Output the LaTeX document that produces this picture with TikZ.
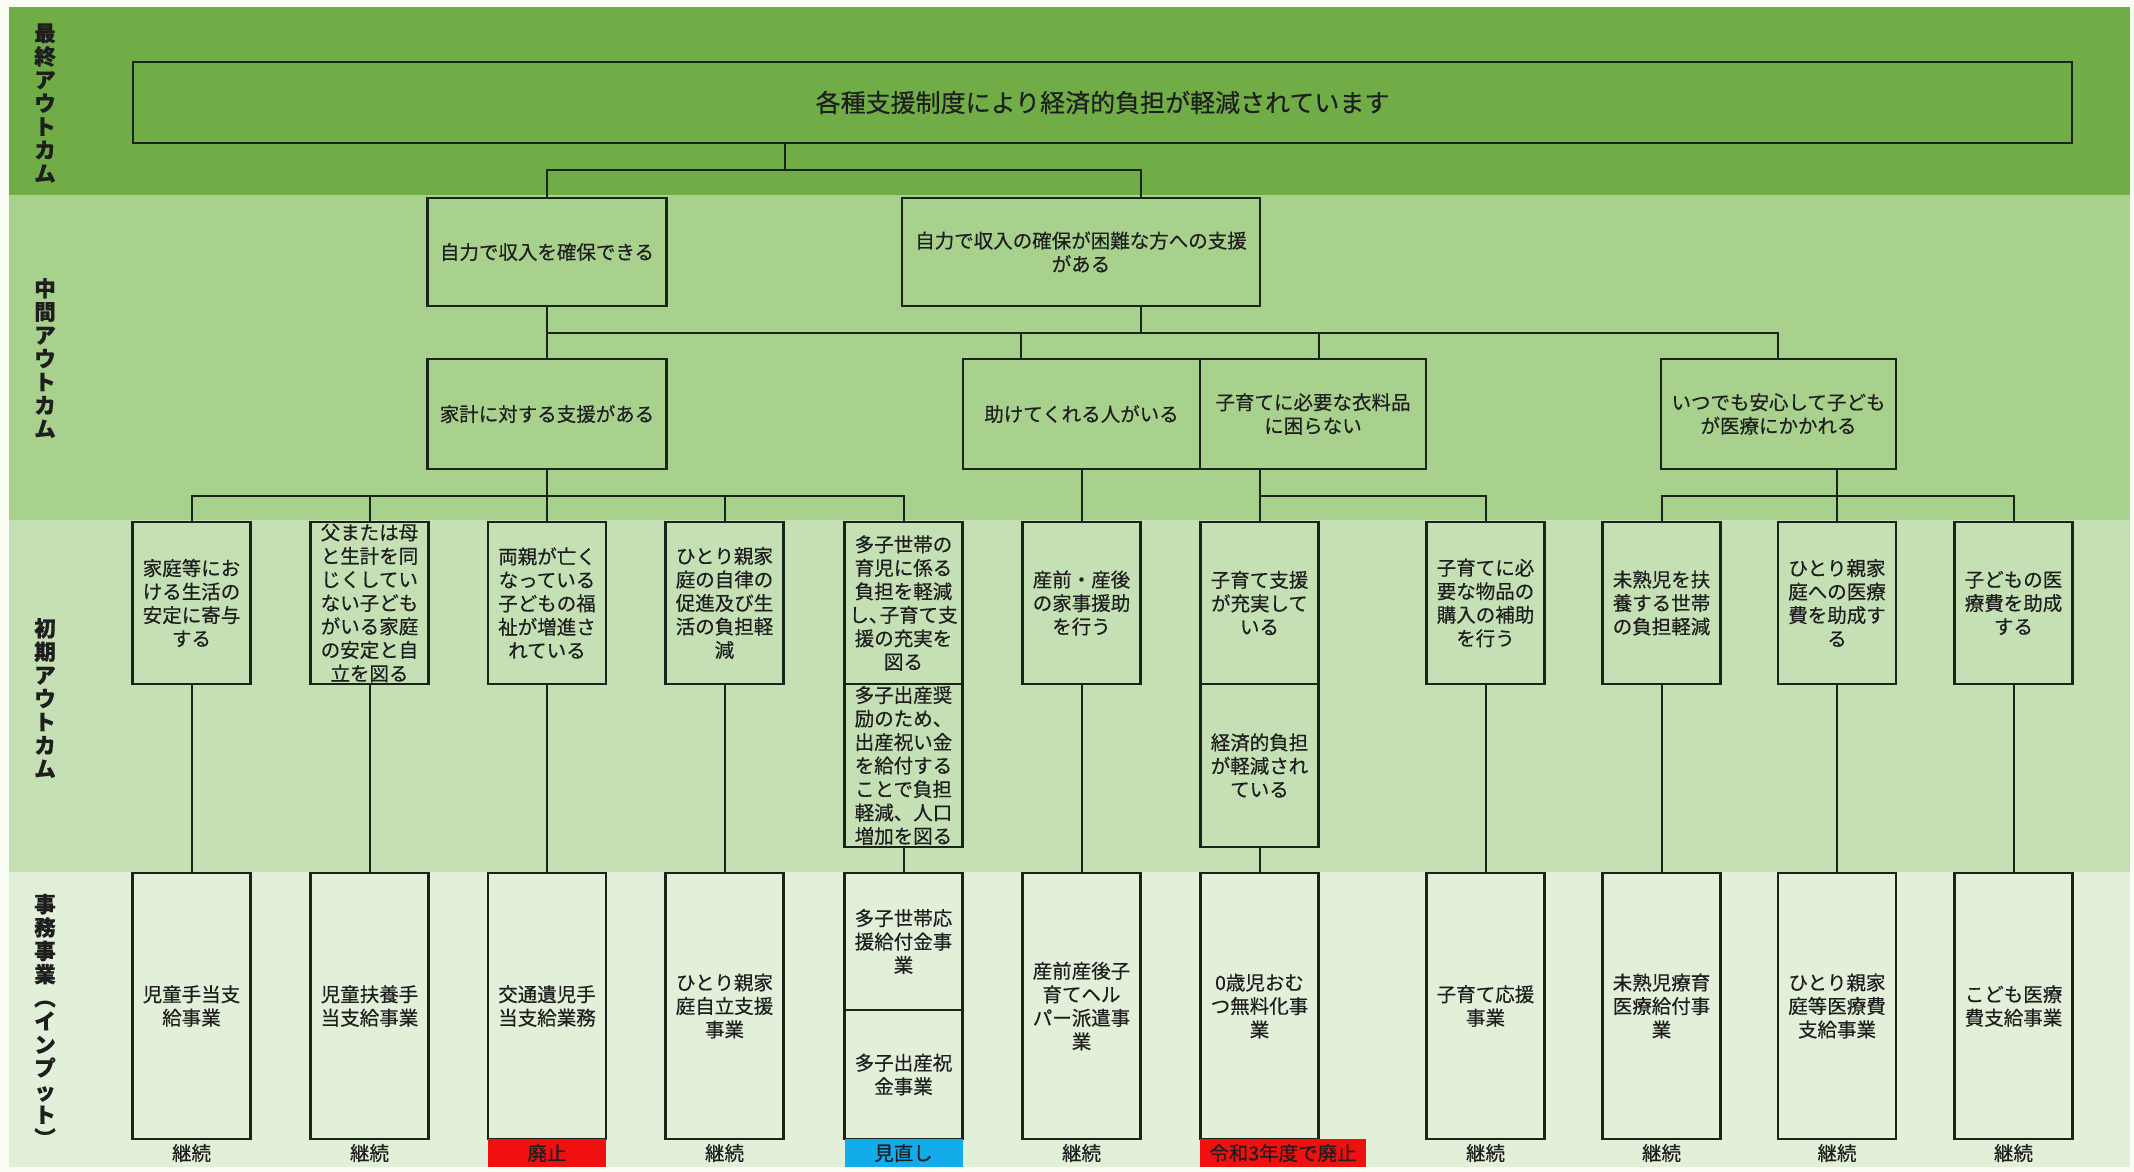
\documentclass[tikz,border=0pt]{standalone}
\usepackage{fontspec}
\setmainfont{Noto Sans CJK JP}[FakeBold=0.4]
\usetikzlibrary{calc}
\definecolor{bgw}{HTML}{FAFDF4}
\definecolor{gA}{HTML}{70AD47}
\definecolor{gB}{HTML}{A9D18E}
\definecolor{gC}{HTML}{C5E0B4}
\definecolor{gD}{HTML}{E2F0D9}
\definecolor{ln}{HTML}{1A2418}
\definecolor{txt}{HTML}{1E1E1E}
\definecolor{redst}{HTML}{F01010}
\definecolor{bluest}{HTML}{12ACEB}
\tikzset{
  box/.style={draw=ln, line width=2.2pt, inner sep=0pt, align=center, text=txt,
    font=\fontsize{19.5}{23.5}\selectfont},
  col/.style={box, minimum width=118pt},
  conn/.style={draw=ln, line width=2pt},
  vlab/.style={align=center, inner sep=0pt, text=txt, font=\fontsize{21.5}{23.4}\selectfont\bfseries},
  status/.style={inner sep=0pt, text=txt, minimum height=28pt, font=\fontsize{19.5}{23.5}\selectfont}
}
\begin{document}
\begin{tikzpicture}[x=1pt,y=-1pt]
\useasboundingbox (0,0) rectangle (2134,1172);
\fill[bgw] (0,0) rectangle (2134,1172);
\fill[gA] (9,7) rectangle (2130,195);
\fill[gB] (9,195) rectangle (2130,520);
\fill[gC] (9,520) rectangle (2130,872);
\fill[gD] (9,872) rectangle (2130,1167);

% band labels
\node[vlab] (L1) at (45,103) {最\\終\\ア\\ウ\\ト\\カ\\ム};
\node[vlab] (L2) at (45,358) {中\\間\\ア\\ウ\\ト\\カ\\ム};
\node[vlab] (L3) at (45,698) {初\\期\\ア\\ウ\\ト\\カ\\ム};
\node[vlab] (L4) at (45,1020) {事\\務\\事\\業\\︵\\イ\\ン\\プ\\ッ\\ト\\︶};

% final outcome
\node[box, minimum width=1939pt, minimum height=81pt, font=\fontsize{25}{30}\selectfont]
  (top) at (1102.5,102.5) {各種支援制度により経済的負担が軽減されています};

% intermediate outcomes
\node[box, minimum width=239pt, minimum height=108pt] (A) at (547,252) {自力で収入を確保できる};
\node[box, minimum width=358pt, minimum height=108pt] (B) at (1081,252) {自力で収入の確保が困難な方への支援\\がある};
\node[box, minimum width=239pt, minimum height=110pt] (K) at (547,414) {家計に対する支援がある};
\node[box, minimum width=237pt, minimum height=110pt] (T) at (1081.5,414) {助けてくれる人がいる};
\node[box, minimum width=226pt, minimum height=110pt] (C) at (1313,414) {子育てに必要な衣料品\\に困らない};
\node[box, minimum width=235pt, minimum height=110pt] (I) at (1778.5,414) {いつでも安心して子ども\\が医療にかかれる};

% initial outcomes
\node[col, minimum height=162pt] (i1) at (191.5,603) {家庭等にお\\ける生活の\\安定に寄与\\する};
\node[col, minimum height=162pt] (i2) at (369.5,603) {父または母\\と生計を同\\じくしてい\\ない子ども\\がいる家庭\\の安定と自\\立を図る};
\node[col, minimum height=162pt] (i3) at (547,603) {両親が亡く\\なっている\\子どもの福\\祉が増進さ\\れている};
\node[col, minimum height=162pt] (i4) at (724.5,603) {ひとり親家\\庭の自律の\\促進及び生\\活の負担軽\\減};
\node[col, minimum height=162pt] (i5) at (903.5,603) {多子世帯の\\育児に係る\\負担を軽減\\し、\kern-0.45em子育て支\\援の充実を\\図る};
\node[col, minimum height=163pt] (i5b) at (903.5,765.5) {多子出産奨\\励のため、\\出産祝い金\\を給付する\\ことで負担\\軽減、人口\\増加を図る};
\node[col, minimum height=162pt] (i6) at (1081.5,603) {産前・産後\\の家事援助\\を行う};
\node[col, minimum height=162pt] (i7) at (1259.5,603) {子育て支援\\が充実して\\いる};
\node[col, minimum height=163pt] (i7b) at (1259.5,765.5) {経済的負担\\が軽減され\\ている};
\node[col, minimum height=162pt] (i8) at (1485.5,603) {子育てに必\\要な物品の\\購入の補助\\を行う};
\node[col, minimum height=162pt] (i9) at (1661.5,603) {未熟児を扶\\養する世帯\\の負担軽減};
\node[col, minimum height=162pt] (i10) at (1837,603) {ひとり親家\\庭への医療\\費を助成す\\る};
\node[col, minimum height=162pt] (i11) at (2013.5,603) {子どもの医\\療費を助成\\する};

% business (inputs)
\node[col, minimum height=266pt] (b1) at (191.5,1006) {児童手当支\\給事業};
\node[col, minimum height=266pt] (b2) at (369.5,1006) {児童扶養手\\当支給事業};
\node[col, minimum height=266pt] (b3) at (547,1006) {交通遺児手\\当支給業務};
\node[col, minimum height=266pt] (b4) at (724.5,1006) {ひとり親家\\庭自立支援\\事業};
\node[col, minimum height=137pt] (b5a) at (903.5,941.5) {多子世帯応\\援給付金事\\業};
\node[col, minimum height=129pt] (b5b) at (903.5,1074.5) {多子出産祝\\金事業};
\node[col, minimum height=266pt] (b6) at (1081.5,1006) {産前産後子\\育てヘル\\パー派遣事\\業};
\node[col, minimum height=266pt] (b7) at (1259.5,1006) {0歳児おむ\\つ無料化事\\業};
\node[col, minimum height=266pt] (b8) at (1485.5,1006) {子育て応援\\事業};
\node[col, minimum height=266pt] (b9) at (1661.5,1006) {未熟児療育\\医療給付事\\業};
\node[col, minimum height=266pt] (b10) at (1837,1006) {ひとり親家\\庭等医療費\\支給事業};
\node[col, minimum height=266pt] (b11) at (2013.5,1006) {こども医療\\費支給事業};

% status
\node[status] (s1) at (191.5,1153) {継続};
\node[status] (s2) at (369.5,1153) {継続};
\node[status, fill=redst, minimum width=118pt] (s3) at (547,1153) {廃止};
\node[status] (s4) at (724.5,1153) {継続};
\node[status, fill=bluest, minimum width=118pt] (s5) at (903.5,1153) {見直し};
\node[status] (s6) at (1081.5,1153) {継続};
\node[status, fill=redst, minimum width=166pt] (s7) at (1283,1153) {令和3年度で廃止};
\node[status] (s8) at (1485.5,1153) {継続};
\node[status] (s9) at (1661.5,1153) {継続};
\node[status] (s10) at (1837,1153) {継続};
\node[status] (s11) at (2013.5,1153) {継続};

% connectors level 1
\coordinate (j0) at (785,170);
\coordinate (jB) at (1141,170);
\draw[conn] (top.south -| j0) -- (j0);
\draw[conn] (A.north) |- (jB) -- (B.north -| jB);

% connectors level 2
\coordinate (jB2) at (1141,333);
\coordinate (jT) at (1021,333);
\coordinate (jC) at (1319,333);
\coordinate (jI) at (1778,333);
\draw[conn] (A.south) -- (K.north);
\draw[conn] (B.south -| jB2) -- (jB2);
\draw[conn] (K.north |- jB2) -| (I.north -| jI);
\draw[conn] (jT) -- (T.north -| jT);
\draw[conn] (jC) -- (C.north -| jC);

% connectors level 3
\coordinate (jK) at (547,496);
\coordinate (jC3) at (1259.5,496);
\coordinate (jI3) at (1837,496);
\draw[conn] (K.south) -- (i3.north);
\draw[conn] (i1.north) |- (jK) -| (i5.north);
\draw[conn] (i2.north) -- (i2.north |- jK);
\draw[conn] (i4.north) -- (i4.north |- jK);
\draw[conn] (T.south) -- (i6.north);
\draw[conn] (C.south -| i7.north) -- (i7.north);
\draw[conn] (jC3) -| (i8.north);
\draw[conn] (I.south -| i10.north) -- (i10.north);
\draw[conn] (i9.north) |- (jI3) -| (i11.north);

% connectors level 4
\draw[conn] (i1.south) -- (b1.north);
\draw[conn] (i2.south) -- (b2.north);
\draw[conn] (i3.south) -- (b3.north);
\draw[conn] (i4.south) -- (b4.north);
\draw[conn] (i5b.south) -- (b5a.north);
\draw[conn] (i6.south) -- (b6.north);
\draw[conn] (i7b.south) -- (b7.north);
\draw[conn] (i8.south) -- (b8.north);
\draw[conn] (i9.south) -- (b9.north);
\draw[conn] (i10.south) -- (b10.north);
\draw[conn] (i11.south) -- (b11.north);
\end{tikzpicture}
\end{document}
